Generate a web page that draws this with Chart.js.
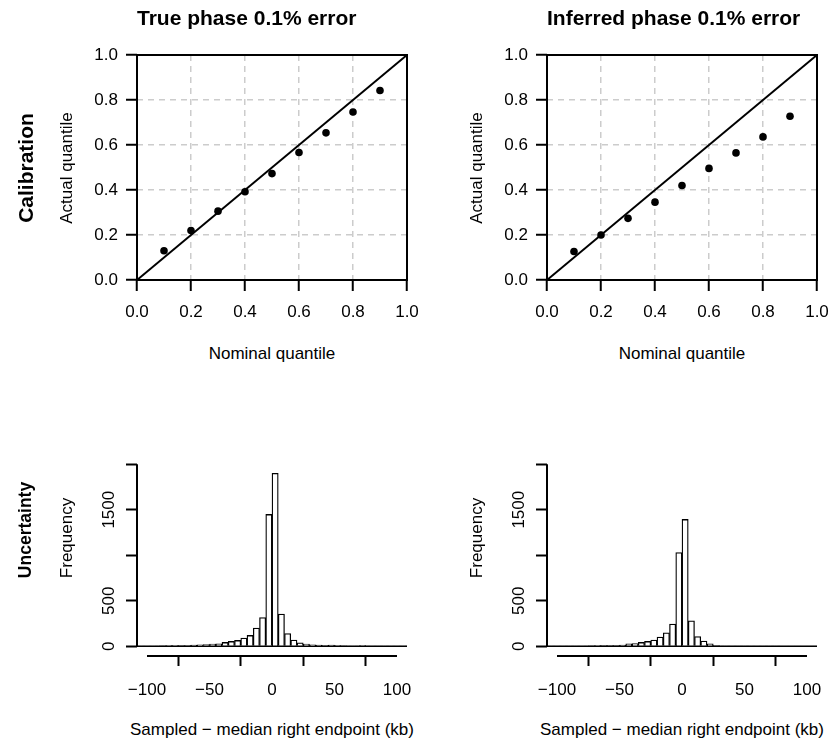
<!DOCTYPE html>
<html><head><meta charset="utf-8">
<script src="https://cdn.jsdelivr.net/npm/chart.js@4/dist/chart.umd.min.js"></script>
<style>
html,body{margin:0;padding:0;background:#fff;}
body{width:831px;height:742px;position:relative;overflow:hidden;font-family:'Liberation Sans',Arial,Helvetica,sans-serif;color:#000;}
canvas{position:absolute;}
.t{position:absolute;white-space:nowrap;line-height:1;}
.c{transform:translate(-50%,-50%);}
.l{transform:translateY(-50%);}
.r{transform:translate(-50%,-50%) rotate(-90deg);}
.title{font-weight:bold;font-size:21px;}
.lab{font-size:17px;}
</style></head><body>
<canvas id="c1" width="430" height="330" style="left:0;top:0;width:430px;height:330px"></canvas>
<canvas id="c2" width="421" height="330" style="left:410px;top:0;width:421px;height:330px"></canvas>
<canvas id="c3" width="430" height="300" style="left:0;top:400px;width:430px;height:300px"></canvas>
<canvas id="c4" width="421" height="300" style="left:410px;top:400px;width:421px;height:300px"></canvas>

<div class="t l title" style="left:137px;top:17px">True phase 0.1% error</div>
<div class="t l title" style="left:547px;top:17px">Inferred phase 0.1% error</div>
<div class="t r title" style="left:25px;top:167.5px">Calibration</div>
<div class="t r title" style="left:26px;top:530px;font-size:17.5px">Uncertainty</div>
<div class="t r lab" style="left:65.5px;top:167.5px">Actual quantile</div>
<div class="t r lab" style="left:475.5px;top:167.5px">Actual quantile</div>
<div class="t c lab" style="left:272px;top:353px">Nominal quantile</div>
<div class="t c lab" style="left:682px;top:353px">Nominal quantile</div>
<div class="t r lab" style="left:65.5px;top:538px">Frequency</div>
<div class="t r lab" style="left:475.5px;top:538px">Frequency</div>
<div class="t c lab" style="left:272px;top:729px">Sampled − median right endpoint (kb)</div>
<div class="t c lab" style="left:682px;top:729px">Sampled − median right endpoint (kb)</div>

<script>
// ---- data ----
const nominalQuantiles = [0.1, 0.2, 0.3, 0.4, 0.5, 0.6, 0.7, 0.8, 0.9];
const actualTruePhase = [0.130, 0.220, 0.306, 0.392, 0.473, 0.567, 0.654, 0.747, 0.842];
const actualInferredPhase = [0.127, 0.200, 0.274, 0.346, 0.420, 0.496, 0.565, 0.636, 0.728];
const calibTicks = [0, 0.2, 0.4, 0.6, 0.8, 1.0];

const binStarts = [-110, -105, -100, -95, -90, -85, -80, -75, -70, -65, -60, -55, -50, -45, -40, -35, -30, -25, -20, -15, -10, -5,
                   0, 5, 10, 15, 20, 25, 30, 35, 40, 45, 50, 55, 60, 65, 70, 75, 80, 85, 90, 95, 100, 105];
const binWidth = 5;
const countsTruePhase = [5, 5, 6, 6, 7, 8, 8, 10, 11, 12, 15, 18, 24, 28, 42, 53, 64, 90, 119, 199, 316, 1448,
                         1900, 353, 140, 68, 38, 24, 15, 12, 10, 12, 8, 7, 6, 5, 8, 4, 3, 3, 2, 2, 2, 2];
const countsInferredPhase = [3, 3, 4, 4, 5, 5, 6, 7, 8, 9, 10, 10, 12, 28, 30, 42, 53, 68, 100, 148, 243, 1029,
                             1393, 279, 107, 57, 27, 10, 6, 5, 5, 6, 4, 3, 3, 2, 2, 2, 1, 1, 1, 1, 1, 1];
const histXTicks = [-100, -50, 0, 50, 100];
const histYTicks = [0, 500, 1000, 1500, 2000];
const histYLabels = ['0', '500', '', '1500', ''];

// ---- shared styling ----
const FONT = {family: "'Liberation Sans', Arial, Helvetica, sans-serif", size: 17};
Chart.defaults.font.family = FONT.family;
Chart.defaults.color = '#000';

function noEdgePadding(s) {
  s.paddingLeft = 0; s.paddingRight = 0; s.paddingTop = 0; s.paddingBottom = 0;
}

const boxPlugin = {
  id: 'box',
  afterDatasetsDraw(chart) {
    const a = chart.chartArea, ctx = chart.ctx;
    ctx.save();
    ctx.strokeStyle = '#000';
    ctx.lineWidth = 2;
    ctx.strokeRect(a.left, a.top, a.right - a.left, a.bottom - a.top);
    ctx.restore();
  }
};

function calibChart(id, values, padRight) {
  const pts = nominalQuantiles.map((x, i) => ({x, y: values[i]}));
  const lo = calibTicks[0], hi = calibTicks[calibTicks.length - 1];
  new Chart(document.getElementById(id), {
    type: 'scatter',
    data: {
      datasets: [
        {data: [{x: lo, y: lo}, {x: hi, y: hi}], showLine: true, borderColor: '#000', borderWidth: 2,
         pointRadius: 0, fill: false, order: 2},
        {data: pts, backgroundColor: '#000', borderColor: '#000', pointRadius: 3.8, pointBorderWidth: 0, order: 1}
      ]
    },
    options: {
      responsive: false, animation: false, events: [],
      layout: {padding: {left: 0, top: 55, right: padRight, bottom: 0}},
      plugins: {legend: {display: false}, tooltip: {enabled: false}},
      scales: {
        x: {
          type: 'linear', min: lo, max: hi,
          afterBuildTicks: s => { s.ticks = calibTicks.map(v => ({value: v})); },
          afterFit: s => { s.height = 50; noEdgePadding(s); },
          ticks: {font: FONT, padding: 11, maxRotation: 0, autoSkip: false, callback: v => v.toFixed(1)},
          grid: {color: '#cccccc', lineWidth: 1.5, tickColor: '#000', tickLength: 11, tickWidth: 2, tickBorderDash: []},
          border: {display: false, dash: [6, 5]}
        },
        y: {
          type: 'linear', min: lo, max: hi,
          afterBuildTicks: s => { s.ticks = calibTicks.map(v => ({value: v})); },
          afterFit: s => { s.width = 137; noEdgePadding(s); },
          ticks: {font: FONT, padding: 8, autoSkip: false, callback: v => v.toFixed(1)},
          grid: {color: '#cccccc', lineWidth: 1.5, tickColor: '#000', tickLength: 11, tickWidth: 2, tickBorderDash: []},
          border: {display: false, dash: [6, 5]}
        }
      }
    },
    plugins: [boxPlugin]
  });
}

const histAxesPlugin = {
  id: 'histAxes',
  afterDatasetsDraw(chart) {
    const ctx = chart.ctx, a = chart.chartArea, xs = chart.scales.x, ys = chart.scales.y;
    ctx.save();
    ctx.strokeStyle = '#000';
    ctx.lineWidth = 1.5;
    // zero-height bins form the baseline
    const y0 = ys.getPixelForValue(0);
    ctx.beginPath();
    ctx.moveTo(a.left, y0); ctx.lineTo(a.right, y0);
    ctx.stroke();
    ctx.lineWidth = 2;
    // y axis line from first to last tick
    ctx.beginPath();
    ctx.moveTo(a.left, ys.getPixelForValue(histYTicks[0]));
    ctx.lineTo(a.left, ys.getPixelForValue(histYTicks[histYTicks.length - 1]));
    ctx.stroke();
    // x axis line from first to last tick
    ctx.beginPath();
    ctx.moveTo(xs.getPixelForValue(histXTicks[0]), a.bottom + 1);
    ctx.lineTo(xs.getPixelForValue(histXTicks[histXTicks.length - 1]), a.bottom + 1);
    ctx.stroke();
    ctx.restore();
  }
};

function histChart(id, counts, padRight) {
  const data = binStarts.map((b, i) => ({x: b + binWidth / 2, y: counts[i]}));
  new Chart(document.getElementById(id), {
    type: 'bar',
    data: {
      datasets: [{data, backgroundColor: '#fff', borderColor: '#000', borderWidth: 1.3,
                  barPercentage: 1, categoryPercentage: 1, borderSkipped: 'start'}]
    },
    options: {
      responsive: false, animation: false, events: [],
      layout: {padding: {left: 0, top: 19, right: padRight, bottom: 0}},
      plugins: {legend: {display: false}, tooltip: {enabled: false}},
      scales: {
        x: {
          type: 'linear', min: -108, max: 108, offset: false,
          afterBuildTicks: s => { s.ticks = histXTicks.map(v => ({value: v})); },
          afterFit: s => { s.height = 45; noEdgePadding(s); },
          ticks: {font: FONT, padding: 14, maxRotation: 0, autoSkip: false,
                  callback: v => v < 0 ? '\u2212' + Math.abs(v) : String(v)},
          grid: {drawOnChartArea: false, tickColor: '#000', tickLength: 11, tickWidth: 2},
          border: {display: false}
        },
        y: {
          type: 'linear', min: -96, max: 2496,
          afterBuildTicks: s => { s.ticks = histYTicks.map(v => ({value: v})); },
          afterFit: s => { s.width = 137; noEdgePadding(s); },
          ticks: {font: FONT, padding: -2, autoSkip: false, minRotation: 90, maxRotation: 90, crossAlign: 'center',
                  callback: (v, i) => histYLabels[histYTicks.indexOf(v)] ?? ''},
          grid: {drawOnChartArea: false, tickColor: '#000', tickLength: 11, tickWidth: 2},
          border: {display: false}
        }
      }
    },
    plugins: [histAxesPlugin]
  });
}

calibChart('c1', actualTruePhase, 23);
calibChart('c2', actualInferredPhase, 14);
histChart('c3', countsTruePhase, 23);
histChart('c4', countsInferredPhase, 14);
</script>
</body></html>
